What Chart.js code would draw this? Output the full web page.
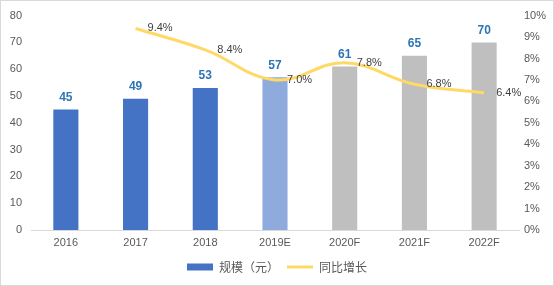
<!DOCTYPE html>
<html><head><meta charset="utf-8">
<script src="https://cdn.jsdelivr.net/npm/chart.js@4/dist/chart.umd.min.js"></script>
<style>html,body{margin:0;padding:0;background:#fff}#wrap{width:554px;height:286px;position:relative}</style>
</head><body><div id="wrap"><canvas id="c" width="554" height="286"></canvas></div>
<script>
const categories = ['2016','2017','2018','2019E','2020F','2021F','2022F'];
const scaleValues = [45,49,53,57,61,65,70];
const growthPct = [null,9.4,8.4,7.0,7.8,6.8,6.4];
const barColors = ['#4472C4','#4472C4','#4472C4','#8FAADC','#BFBFBF','#BFBFBF','#BFBFBF'];
const seriesNames = ['规模（元）','同比增长'];

const FONT = '"Liberation Sans", "Noto Sans CJK SC", sans-serif';
const CJK = '"Noto Sans CJK SC", "Liberation Sans", sans-serif';

const labelPlugin = {
  id: 'labels',
  beforeDraw(chart){
    const ctx = chart.ctx; ctx.save();
    ctx.strokeStyle = '#D9D9D9'; ctx.lineWidth = 1;
    ctx.strokeRect(0.5,0.5,chart.width-1,chart.height-1);
    ctx.restore();
  },
  afterDatasetsDraw(chart){
    const ctx = chart.ctx; ctx.save();
    chart.data.datasets.forEach((ds, di) => {
      const meta = chart.getDatasetMeta(di);
      meta.data.forEach((el, i) => {
        const v = ds.data[i];
        if (v === null || v === undefined) return;
        if (ds.type === 'bar') {
          ctx.font = 'bold 12px ' + FONT;
          ctx.fillStyle = '#2E75B6';
          ctx.textAlign = 'center'; ctx.textBaseline = 'bottom';
          ctx.fillText(String(v), el.x, el.y - 6);
        } else {
          ctx.font = '11px ' + FONT;
          ctx.fillStyle = '#404040';
          ctx.textAlign = 'left'; ctx.textBaseline = 'middle';
          ctx.fillText(v.toFixed(1) + '%', el.x + 12, el.y);
        }
      });
    });
    ctx.restore();
  }
};

new Chart(document.getElementById('c'), {
  data: {
    labels: categories,
    datasets: [
      { type:'line', label: seriesNames[1], data: growthPct, yAxisID:'y1',
        borderColor:'#FFD966', backgroundColor:'#FFD966', borderWidth:3,
        pointRadius:0, tension:0.4, spanGaps:false, fill:false },
      { type:'bar', label: seriesNames[0], data: scaleValues, yAxisID:'y',
        backgroundColor: barColors, borderWidth:0,
        barPercentage:0.72, categoryPercentage:0.5 }
    ]
  },
  options: {
    responsive:false, animation:false, devicePixelRatio:1,
    layout:{ padding:{ top:14, bottom:3, left:0, right:0 } },
    plugins:{
      tooltip:{enabled:false},
      legend:{ position:'bottom',
        labels:{ usePointStyle:true, pointStyleWidth:26, boxHeight:7, padding:8,
          color:'#595959', font:{ family:CJK, size:12 },
          sort:(a,b)=>b.datasetIndex-a.datasetIndex,
          generateLabels(chart){
            const items = Chart.defaults.plugins.legend.labels.generateLabels(chart);
            items.forEach(it => { it.pointStyle = chart.data.datasets[it.datasetIndex].type === 'bar' ? 'rect' : 'line'; });
            return items;
          }
        }
      }
    },
    scales:{
      x:{ grid:{ display:false, drawTicks:false }, border:{ color:'#D9D9D9' },
          ticks:{ color:'#595959', font:{family:FONT,size:11}, padding:6 },
          afterFit(s){ s.height = 23; } },
      y:{ position:'left', min:0, max:80, grid:{display:false, drawTicks:false}, border:{display:false},
          ticks:{ stepSize:10, color:'#595959', font:{family:FONT,size:11}, padding:9 },
          afterFit(s){ s.width = 31; } },
      y1:{ position:'right', min:0, max:10, grid:{display:false, drawTicks:false}, border:{display:false},
          ticks:{ stepSize:1, color:'#595959', font:{family:FONT,size:11}, padding:5, callback:v=>v+'%' },
          afterFit(s){ s.width = 35; } }
    }
  },
  plugins:[labelPlugin]
});
</script></body></html>
